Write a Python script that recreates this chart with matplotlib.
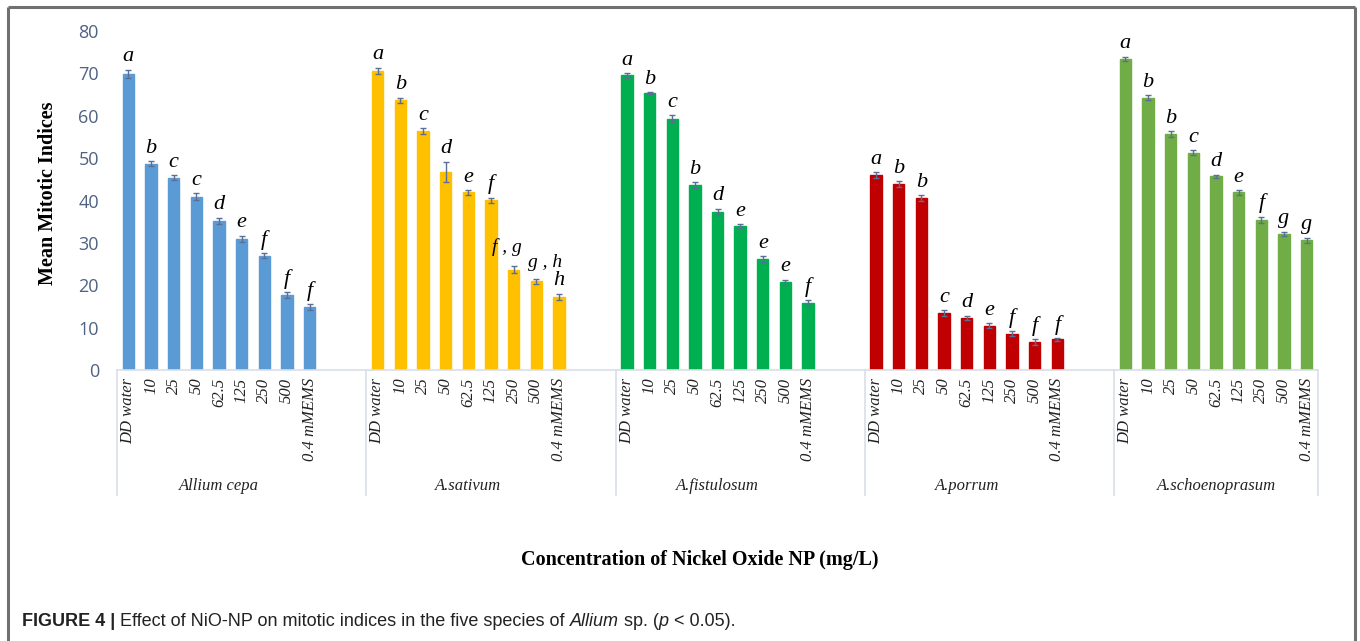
import matplotlib.pyplot as plt
from matplotlib.transforms import blended_transform_factory

# data
species = ['Allium cepa', 'A.sativum', 'A.fistulosum', 'A.porrum', 'A.schoenoprasum']
treatments = ['DD water', '10', '25', '50', '62.5', '125', '250', '500', '0.4 mMEMS']

cepa = [69.9, 48.7, 45.4, 40.9, 35.2, 31.0, 27.0, 17.7, 14.9]
sativum = [70.6, 63.7, 56.4, 46.8, 41.9, 40.1, 23.7, 20.9, 17.3]
fistulosum = [69.5, 65.3, 59.3, 43.6, 37.3, 33.9, 26.1, 20.7, 15.9]
porrum = [46.0, 43.9, 40.6, 13.4, 12.3, 10.5, 8.6, 6.6, 7.2]
schoenoprasum = [73.4, 64.3, 55.7, 51.3, 45.7, 41.9, 35.5, 32.1, 30.6]

cepa_err = [1.0, 0.6, 0.5, 0.8, 0.7, 0.7, 0.6, 0.6, 0.7]
sativum_err = [0.7, 0.6, 0.7, 2.4, 0.6, 0.6, 0.9, 0.6, 0.7]
fistulosum_err = [0.5, 0.2, 0.8, 0.7, 0.8, 0.5, 0.7, 0.6, 0.6]
porrum_err = [0.7, 0.7, 0.6, 0.7, 0.5, 0.6, 0.5, 0.6, 0.3]
schoenoprasum_err = [0.5, 0.6, 0.6, 0.5, 0.4, 0.5, 0.7, 0.5, 0.6]

cepa_let = ['a', 'b', 'c', 'c', 'd', 'e', 'f', 'f', 'f']
sativum_let = ['a', 'b', 'c', 'd', 'e', 'f', 'f , g', 'g , h', 'h']
fistulosum_let = ['a', 'b', 'c', 'b', 'd', 'e', 'e', 'e', 'f']
porrum_let = ['a', 'b', 'b', 'c', 'd', 'e', 'f', 'f', 'f']
schoenoprasum_let = ['a', 'b', 'b', 'c', 'd', 'e', 'f', 'g', 'g']

values = [cepa, sativum, fistulosum, porrum, schoenoprasum]
errors = [cepa_err, sativum_err, fistulosum_err, porrum_err, schoenoprasum_err]
letters = [cepa_let, sativum_let, fistulosum_let, porrum_let, schoenoprasum_let]
colors = ['#5B9BD5', '#FFC000', '#00B050', '#C00000', '#70AD47']

SERIF = 'Liberation Serif'
slot = 11  # 9 bars + 2 empty categories per group

fig = plt.figure(figsize=(13.6, 6.41), dpi=100)
ax = fig.add_axes([117 / 1360, 271 / 641, 1201 / 1360, 339 / 641])

for g, (vals, errs, lets, col) in enumerate(zip(values, errors, letters, colors)):
    x = [g * slot + i for i in range(len(vals))]
    ax.bar(x, vals, width=0.5, color=col, edgecolor=col, zorder=2)
    ax.errorbar(x, vals, yerr=errs, fmt='none', ecolor='#5B6E96',
                elinewidth=1, capsize=2.5, capthick=1, zorder=3)
    for i, (xi, v, e, t) in enumerate(zip(x, vals, errs, lets)):
        dx, dy, fs = 0, 0, 16
        if t == 'f , g':
            dx, dy, fs = -0.3, 1.4, 14
        elif t == 'g , h':
            dx, dy, fs = 0.4, 1.0, 14
        ax.text(xi + dx, v + e + 0.8 + dy, t, ha='center', va='bottom',
                family=SERIF, style='italic', fontsize=fs, color='black')
    for xi, lab in zip(x, treatments):
        ax.text(xi, -1.8, lab, rotation=90, ha='center', va='top',
                family=SERIF, style='italic', fontsize=12, color='#222222')
    ax.text(g * slot + 4, -27.3, species[g], ha='center', va='center',
            family=SERIF, style='italic', fontsize=12, color='#222222')

ax.set_xlim(-0.5, 4 * slot + 8.5)
ax.set_ylim(0, 80)
ax.set_yticks(range(0, 81, 10))
ax.tick_params(axis='y', length=0, pad=13, labelsize=13, labelcolor='#4F6282')
for lab in ax.get_yticklabels():
    lab.set_family('Open Sans')
ax.set_xticks([])
for s in ['top', 'right', 'left']:
    ax.spines[s].set_visible(False)
ax.spines['bottom'].set_color('#D9DEE8')
ax.spines['bottom'].set_linewidth(1.2)

# group separators of the multi-level category axis
trans = blended_transform_factory(ax.transData, ax.transAxes)
for b in [-0.5, 10.5, 21.5, 32.5, 43.5, 4 * slot + 8.5]:
    ax.plot([b, b], [0, -0.37], transform=trans, color='#D9DEE8',
            lw=1.2, clip_on=False)

fig.text(48 / 1360, 1 - 193 / 641, 'Mean Mitotic Indices', rotation=90,
         ha='center', va='center', family=SERIF, weight='bold', fontsize=14.5)
fig.text(700 / 1360, 1 - 560 / 641, 'Concentration of Nickel Oxide NP (mg/L)',
         ha='center', va='center', family=SERIF, weight='bold', fontsize=14.5)

# outer frame
fr = dict(color='#707070', lw=2.2, solid_capstyle='butt')
fig.add_artist(plt.Line2D([8 / 1360, 1355 / 1360], [1 - 7 / 641] * 2, **fr))
fig.add_artist(plt.Line2D([8 / 1360] * 2, [0, 1 - 7 / 641], **fr))
fig.add_artist(plt.Line2D([1355 / 1360] * 2, [0, 1 - 7 / 641], **fr))

# caption built piece by piece
pieces = [('FIGURE 4 | ', 'bold', 'normal'),
          ('Effect of NiO-NP on mitotic indices in the five species of ', 'normal', 'normal'),
          ('Allium', 'normal', 'italic'),
          (' sp. (', 'normal', 'normal'),
          ('p', 'normal', 'italic'),
          (' < 0.05).', 'normal', 'normal')]
renderer = fig.canvas.get_renderer()
xpos = 22
for txt, w, st in pieces:
    t = fig.text(xpos / 1360, 1 - 621 / 641, txt, ha='left', va='center',
                 family='Liberation Sans', weight=w, style=st, fontsize=13,
                 color='#222222')
    xpos += t.get_window_extent(renderer).width

fig.savefig('out.png', dpi=100)
